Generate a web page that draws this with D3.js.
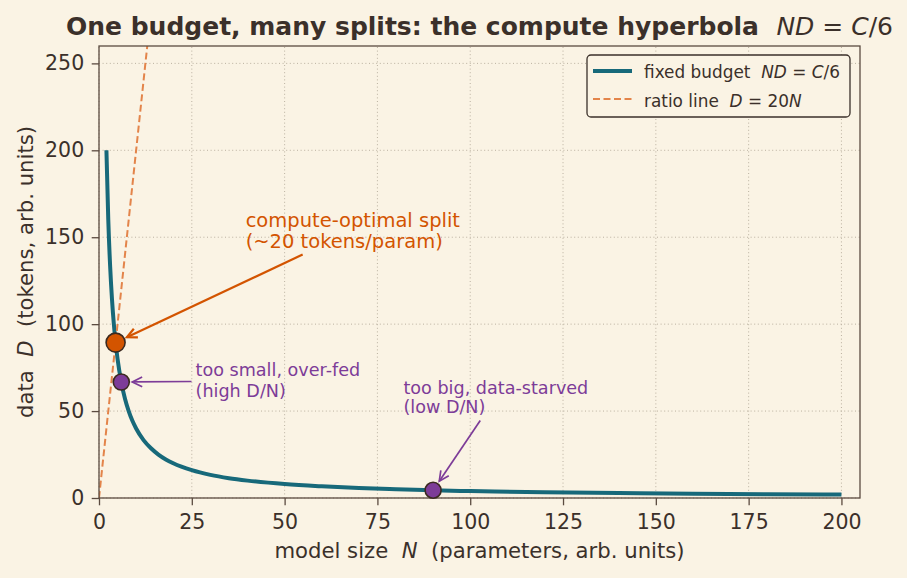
<!DOCTYPE html>
<html>
<head>
<meta charset="utf-8">
<script src="https://cdn.jsdelivr.net/npm/d3@7"></script>
<style>
  html, body { margin: 0; padding: 0; background: #faf3e4; }
  svg { display: block; font-family: "DejaVu Sans", sans-serif; }
  text { white-space: pre; }
</style>
</head>
<body>
<svg id="chart"></svg>
<script>
// fixed budget N*D = C/6
const budgetN = [2, 2.5, 3, 3.5, 4, 4.5, 5, 6, 7, 8, 9, 10, 12, 14, 16, 18, 20, 25, 30, 35, 40, 50, 60, 70, 80, 90, 100, 120, 140, 160, 180, 200];
const budgetD = [200, 160, 133.3, 114.3, 100, 88.9, 80, 66.7, 57.1, 50, 44.4, 40, 33.3, 28.6, 25, 22.2, 20, 16, 13.3, 11.4, 10, 8, 6.7, 5.7, 5, 4.4, 4, 3.3, 2.9, 2.5, 2.2, 2];
// ratio line D = 20N
const ratioN = [0, 13];
const ratioD = [0, 260];
// highlighted splits: optimal, too small, too big
const markerN = [4.47, 6, 90];
const markerD = [89.4, 66.7, 4.44];
const xTicks = [0, 25, 50, 75, 100, 125, 150, 175, 200];
const yTicks = [0, 50, 100, 150, 200, 250];
// annotation texts and where they sit (data coords of first baseline)
const noteLines = [
  ["compute-optimal split", "(~20 tokens/param)"],
  ["too small, over-fed", "(high D/N)"],
  ["too big, data-starved", "(low D/N)"]
];
const noteN = [39.5, 26, 82];
const noteD = [156, 70, 60];

const W = 907, H = 578;
const margin = {top: 46, right: 47, bottom: 80, left: 99};
const ink = "#3b302a", spine = "#5b4b40";
const teal = "#17697a", orange = "#e3844a", dark_orange = "#d35400", purple = "#7d3c98";

const svg = d3.select("#chart").attr("width", W).attr("height", H);
svg.append("rect").attr("width", W).attr("height", H).attr("fill", "#faf3e4");

const x = d3.scaleLinear().domain([0, 205]).range([margin.left, W - margin.right]);
const y = d3.scaleLinear().domain([0, 260]).range([H - margin.bottom, margin.top]);

svg.append("clipPath").attr("id", "plot")
  .append("rect")
  .attr("x", x(0)).attr("y", y(260))
  .attr("width", x(205) - x(0)).attr("height", y(0) - y(260));

// grid
const grid = svg.append("g").attr("stroke", "#b3a998").attr("stroke-width", 0.9).attr("stroke-dasharray", "1,2.6");
grid.selectAll(".gx").data(xTicks).enter().append("line")
  .attr("x1", d => x(d)).attr("x2", d => x(d)).attr("y1", y(0)).attr("y2", y(260));
grid.selectAll(".gy").data(yTicks).enter().append("line")
  .attr("y1", d => y(d)).attr("y2", d => y(d)).attr("x1", x(0)).attr("x2", x(205));

const plot = svg.append("g").attr("clip-path", "url(#plot)");

const budget = budgetN.map((n, i) => [n, budgetD[i]]);
plot.append("path")
  .datum(budget)
  .attr("fill", "none").attr("stroke", teal).attr("stroke-width", 4)
  .attr("stroke-linejoin", "round")
  .attr("d", d3.line().x(d => x(d[0])).y(d => y(d[1])).curve(d3.curveMonotoneX));

const ratio = ratioN.map((n, i) => [n, ratioD[i]]);
plot.append("path")
  .datum(ratio)
  .attr("fill", "none").attr("stroke", orange).attr("stroke-width", 2)
  .attr("stroke-dasharray", "7,3.5")
  .attr("d", d3.line().x(d => x(d[0])).y(d => y(d[1])));

// spines
svg.append("rect")
  .attr("x", x(0)).attr("y", y(260))
  .attr("width", x(205) - x(0)).attr("height", y(0) - y(260))
  .attr("fill", "none").attr("stroke", spine).attr("stroke-width", 1.3);

// axes
const xAxis = svg.append("g")
  .attr("transform", `translate(0,${y(0)})`)
  .call(d3.axisBottom(x).tickValues(xTicks).tickSize(7.3).tickPadding(9));
const yAxis = svg.append("g")
  .attr("transform", `translate(${x(0)},0)`)
  .call(d3.axisLeft(y).tickValues(yTicks).tickSize(7.3).tickPadding(7.5));
[xAxis, yAxis].forEach(a => {
  a.select(".domain").remove();
  a.selectAll(".tick line").attr("stroke", spine).attr("stroke-width", 1.3);
  a.selectAll(".tick text").attr("fill", ink).attr("font-size", "20.5px")
    .attr("font-family", "DejaVu Sans");
});

// axis labels
const xl = svg.append("text")
  .attr("x", (x(0) + x(205)) / 2).attr("y", 558)
  .attr("text-anchor", "middle").attr("fill", ink).attr("font-size", "21.2px");
xl.append("tspan").text("model size  ");
xl.append("tspan").attr("font-style", "italic").text("N");
xl.append("tspan").text("  (parameters, arb. units)");

const yl = svg.append("text")
  .attr("transform", `translate(33,${(y(0) + y(260)) / 2}) rotate(-90)`)
  .attr("text-anchor", "middle").attr("fill", ink).attr("font-size", "21.2px");
yl.append("tspan").text("data  ");
yl.append("tspan").attr("font-style", "italic").text("D");
yl.append("tspan").text("  (tokens, arb. units)");

// title
const title = svg.append("text")
  .attr("x", (x(0) + x(205)) / 2).attr("y", 35)
  .attr("text-anchor", "middle").attr("fill", ink).attr("font-size", "25px");
title.append("tspan").attr("font-weight", "bold").text("One budget, many splits: the compute hyperbola  ");
title.append("tspan").attr("font-style", "italic").text("ND");
title.append("tspan").text(" = ");
title.append("tspan").attr("font-style", "italic").text("C");
title.append("tspan").text("/6");

// legend
const lgX = 587, lgY = 55;
const legend = svg.append("g").attr("transform", `translate(${lgX},${lgY})`);
legend.append("rect")
  .attr("width", 263).attr("height", 62).attr("rx", 4)
  .attr("fill", "#faf3e4").attr("stroke", ink).attr("stroke-width", 1.3);
legend.append("line").attr("x1", 6).attr("x2", 45).attr("y1", 16).attr("y2", 16)
  .attr("stroke", teal).attr("stroke-width", 4);
legend.append("line").attr("x1", 6).attr("x2", 45).attr("y1", 44).attr("y2", 44)
  .attr("stroke", orange).attr("stroke-width", 2).attr("stroke-dasharray", "7,3.5");
const lt1 = legend.append("text").attr("x", 57).attr("y", 23).attr("fill", ink).attr("font-size", "16.9px");
lt1.append("tspan").text("fixed budget  ");
lt1.append("tspan").attr("font-style", "italic").text("ND");
lt1.append("tspan").text(" = ");
lt1.append("tspan").attr("font-style", "italic").text("C");
lt1.append("tspan").text("/6");
const lt2 = legend.append("text").attr("x", 57).attr("y", 52).attr("fill", ink).attr("font-size", "16.9px");
lt2.append("tspan").text("ratio line  ");
lt2.append("tspan").attr("font-style", "italic").text("D");
lt2.append("tspan").text(" = 20");
lt2.append("tspan").attr("font-style", "italic").text("N");

// annotations with arrows
const noteColor = [dark_orange, purple, purple];
const noteSize = [19.5, 17.6, 17.6];
const noteGap = [21, 21, 19.5];
const markerR = [9.5, 8, 8];
const arrowW = [2.2, 1.7, 1.7];

noteLines.forEach((lines, i) => {
  const g = svg.append("g");
  const t = g.append("text")
    .attr("x", x(noteN[i])).attr("y", y(noteD[i]))
    .attr("fill", noteColor[i]).attr("font-size", noteSize[i] + "px");
  lines.forEach((s, k) => {
    t.append("tspan").attr("x", x(noteN[i])).attr("dy", k === 0 ? 0 : noteGap[i]).text(s);
  });
  const bb = t.node().getBBox();
  const cx = bb.x + bb.width / 2, cy = bb.y + bb.height / 2;
  const tx = x(markerN[i]), ty = y(markerD[i]);
  const dx = tx - cx, dy = ty - cy;
  const len = Math.hypot(dx, dy);
  const ux = dx / len, uy = dy / len;
  const s = Math.min(Math.abs(dx) > 0 ? (bb.width / 2) / Math.abs(dx) : Infinity,
                     Math.abs(dy) > 0 ? (bb.height / 2) / Math.abs(dy) : Infinity);
  const sx = cx + dx * s + ux * 4, sy = cy + dy * s + uy * 4;
  const ex = tx - ux * (markerR[i] + 3), ey = ty - uy * (markerR[i] + 3);
  g.append("line").attr("x1", sx).attr("y1", sy).attr("x2", ex).attr("y2", ey)
    .attr("stroke", noteColor[i]).attr("stroke-width", arrowW[i]);
  const hl = 11, ang = 0.45;
  const head = [-ang, ang].map(a => {
    const c = Math.cos(a), sn = Math.sin(a);
    const rx = -(ux * c - uy * sn), ry = -(ux * sn + uy * c);
    return [ex + rx * hl, ey + ry * hl];
  });
  g.append("path")
    .attr("d", `M${head[0][0]},${head[0][1]}L${ex},${ey}L${head[1][0]},${head[1][1]}`)
    .attr("fill", "none").attr("stroke", noteColor[i]).attr("stroke-width", arrowW[i])
    .attr("stroke-linejoin", "miter");
});

// markers
const markerFill = [dark_orange, purple, purple];
svg.append("g").selectAll("circle")
  .data(markerN.map((n, i) => [n, markerD[i]]))
  .enter().append("circle")
  .attr("cx", d => x(d[0])).attr("cy", d => y(d[1]))
  .attr("r", (d, i) => markerR[i])
  .attr("fill", (d, i) => markerFill[i])
  .attr("stroke", "#3b2a20").attr("stroke-width", 1.6);
</script>
</body>
</html>
